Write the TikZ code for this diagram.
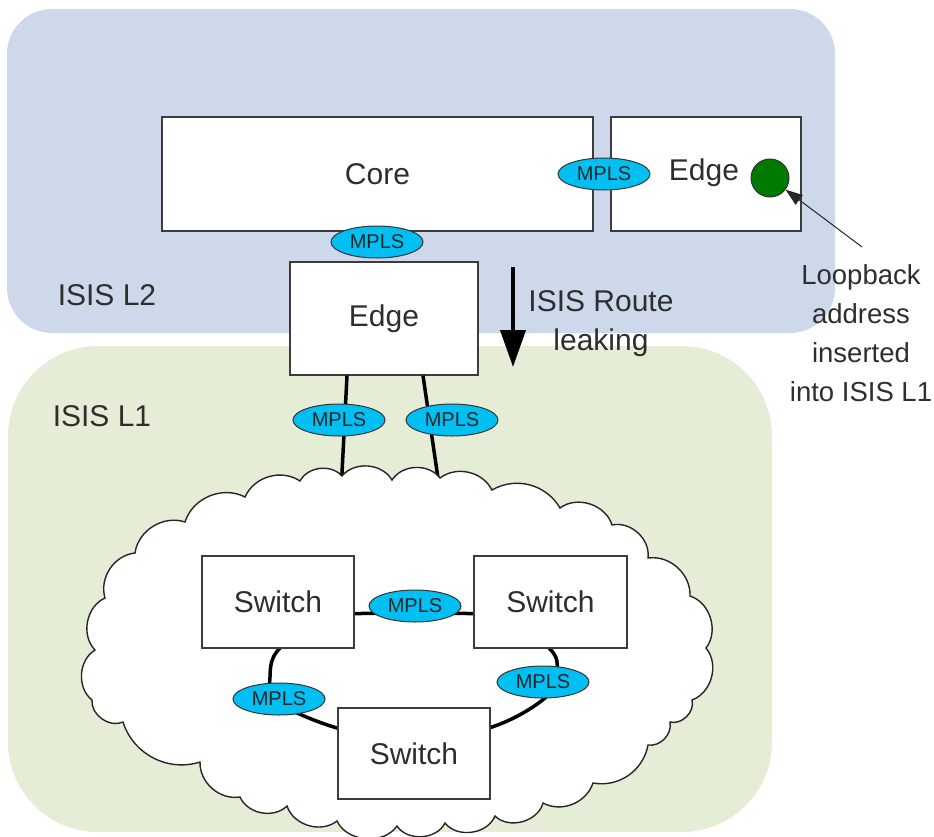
\documentclass[tikz,border=0pt]{standalone}
\usepackage{fontspec}
\setmainfont{Liberation Sans}
\usetikzlibrary{shapes.geometric,arrows.meta}

\definecolor{levelTwo}{HTML}{CDD9EA}
\definecolor{levelOne}{HTML}{E5EDD6}
\definecolor{mplsFill}{HTML}{00BFF3}
\definecolor{loopDot}{HTML}{007A00}
\definecolor{boxLine}{HTML}{3C3C3C}
\definecolor{txt}{HTML}{2E2E2E}

\tikzset{
  devbox/.style={draw=boxLine, line width=1.3pt, fill=white, inner sep=0pt,
    text=txt, font=\fontsize{30}{36}\selectfont},
  mpls/.style={ellipse, draw=black!80, line width=1pt, fill=mplsFill, inner sep=0pt,
    minimum width=92pt, minimum height=32pt, text=black!85,
    font=\fontsize{20}{24}\selectfont},
  label/.style={text=txt, font=\fontsize{30}{39}\selectfont, align=center, inner sep=0pt},
  link/.style={line width=3.5pt, black},
  cloudline/.style={draw=black!85, line width=1.4pt, fill=white},
}

\begin{document}
\begin{tikzpicture}[x=1pt, y=-1pt]
\useasboundingbox (0,0) rectangle (934,836);

% routing levels
\fill[levelTwo, rounded corners=45pt] (7,9) rectangle (835,333);
\fill[levelOne, rounded corners=90pt] (8,346) rectangle (772,832);

\node[label] (l2) at (107,295) {ISIS L2};
\node[label] (l1) at (102,416) {ISIS L1};

% level-2 devices
\node[devbox, minimum width=431pt, minimum height=114pt] (core) at (377.5,174) {Core};
\node[devbox, minimum width=190pt, minimum height=114pt] (edgeR) at (706,174) {};
\node[text=txt, font=\fontsize{30}{36}\selectfont, inner sep=0pt] (edgeRt) at (704,173) {Edge};
\node[circle, draw=black!80, line width=1pt, fill=loopDot, minimum size=38pt, inner sep=0pt] (dot) at (770,178) {};
\node[devbox, minimum width=188pt, minimum height=113pt] (edgeB) at (384,318.5) {Edge};

\node[mpls] (m1) at (604,174) {MPLS};
\node[mpls] (m2) at (377,242) {MPLS};

% route leaking arrow
\coordinate (a1) at (513,267);
\coordinate (a2) at (513,367);
\draw[line width=4pt, -{Triangle[length=37pt, width=25pt]}] (a1) -- (a2);
\node[label] (leak) at (601,324) {ISIS Route\\leaking};

% loopback annotation
\node[label, font=\fontsize{27.5}{39}\selectfont] (lb) at (861,333) {Loopback\\address\\inserted\\into ISIS L1};
\coordinate (lbtail) at (862,247);
\draw[line width=1pt, black!85, -{Triangle[length=17pt, width=12pt]}] (lbtail) -- (dot);

% uplinks from the edge into the level-1 cloud
\coordinate (c1) at (341,492);
\coordinate (c2) at (440,492);
\draw[link] (edgeB.south -| 347,0) -- (c1);
\draw[link] (edgeB.south -| 423,0) -- (c2);

% level-1 cloud
\path[cloudline]
  (300,481) to[bend left=55] (342,476) to[bend left=55] (392,480)
  to[bend left=55] (440,478) to[bend left=50] (492,490)
  to[bend left=45] (560,508) to[bend left=55] (612,525)
  to[bend left=55] (648,558) to[bend left=50] (690,596)
  to[bend left=55] (706,648) to[bend left=55] (692,700)
  to[bend left=60] (670,722) to[bend left=55] (648,745)
  to[bend left=45] (593,783) to[bend left=50] (543,803)
  to[bend left=60] (495,816) to[bend left=60] (445,823)
  to[bend left=60] (397,826) to[bend left=60] (337,821)
  to[bend left=55] (287,806) to[bend left=55] (240,797)
  to[bend left=50] (200,762) to[bend left=45] (123,722)
  to[bend left=60] (92,700) to[bend left=55] (95,650)
  to[bend left=55] (105,598) to[bend left=50] (135,553)
  to[bend left=50] (185,522) to[bend left=50] (245,497)
  to[bend left=50] (300,481) -- cycle;

% switch ring
\draw[link] plot[smooth cycle, tension=0.6] coordinates {
  (413,614) (500,617) (549,648) (557,672) (545,698) (492,727)
  (413,742) (337,728) (278,702) (270,677) (280,648) (330,617)};

\node[devbox, minimum width=152pt, minimum height=92pt] (sw1) at (278,602) {Switch};
\node[devbox, minimum width=153pt, minimum height=92pt] (sw2) at (550.5,602) {Switch};
\node[devbox, minimum width=152pt, minimum height=91pt] (sw3) at (414,753.5) {Switch};

\node[mpls] (m5) at (415,606) {MPLS};
\node[mpls] (m6) at (279,699) {MPLS};
\node[mpls] (m7) at (543,682) {MPLS};

\node[mpls] (m3) at (339,420) {MPLS};
\node[mpls] (m4) at (452,420) {MPLS};
\end{tikzpicture}
\end{document}
